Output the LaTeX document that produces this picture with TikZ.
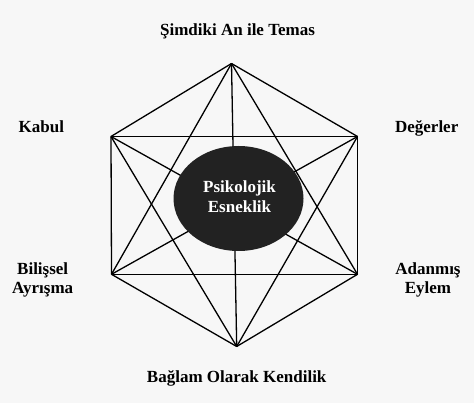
\documentclass[tikz,border=0pt]{standalone}
\usepackage{fontspec}
\setmainfont{Liberation Serif}
\usetikzlibrary{shapes.geometric}
\definecolor{bg}{RGB}{247,247,247}
\definecolor{blob}{RGB}{34,34,34}
\tikzset{
  edge/.style={line width=1.3pt, draw=black},
  lbl/.style={font=\fontsize{17}{19.5}\selectfont\bfseries, text=black, align=center, anchor=base, inner sep=0pt},
  core/.style={ellipse, fill=blob, minimum width=130pt, minimum height=105pt, inner sep=0pt},
  coretext/.style={text=white, font=\fontsize{17}{19.7}\selectfont\bfseries, anchor=base, inner sep=0pt, align=center}
}
\begin{document}
\begin{tikzpicture}[x=1pt,y=-1pt]
\fill[bg] (0,0) rectangle (474,403);
\useasboundingbox (0,0) rectangle (474,403);
\coordinate (T) at (231.5,63.5);
\coordinate (UL) at (111,136.5);
\coordinate (UR) at (357.5,136.5);
\coordinate (LL) at (111.5,274.3);
\coordinate (LR) at (357.5,274.3);
\coordinate (B) at (236.7,346.5);
\foreach \a/\b in {T/UL,T/UR,T/LL,T/LR,T/B,UL/UR,UL/LL,UL/LR,UL/B,UR/LL,UR/LR,UR/B,LL/LR,LL/B,LR/B}
  \draw[edge] (\a) -- (\b);
\node[core] (pe) at (238.5,198.5) {};
\node[coretext] (petext) at (239.5,212.7) {Psikolojik\\Esneklik};
\node[lbl] (simdiki) at (237.5,36) {Şimdiki An ile Temas};
\node[lbl] (kabul) at (41.3,132.7) {Kabul};
\node[lbl] (degerler) at (426.7,132.7) {Değerler};
\node[lbl] (bilissel) at (42.7,293.8) {Bilişsel\\Ayrışma};
\node[lbl] (adanmis) at (428,293.8) {Adanmış\\Eylem};
\node[lbl] (baglam) at (236.7,382.7) {Bağlam Olarak Kendilik};
\end{tikzpicture}
\end{document}
